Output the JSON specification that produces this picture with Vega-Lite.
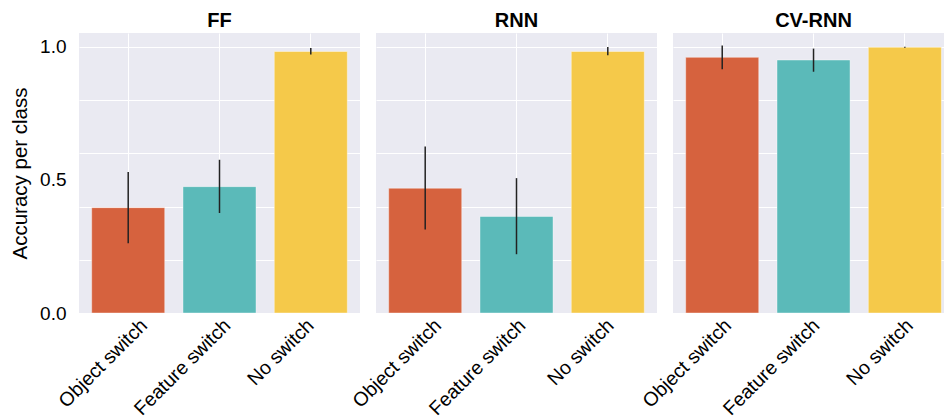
{
  "$schema": "https://vega.github.io/schema/vega-lite/v6.json",
  "background": "white",
  "padding": {"left": 10, "top": 11, "right": 0, "bottom": 0},
  "spacing": 16,
  "bounds": "flush",
  "data": {"values": [
    {"model": "FF", "cond": "Object switch", "acc": 0.396, "lo": 0.262, "hi": 0.530},
    {"model": "FF", "cond": "Feature switch", "acc": 0.475, "lo": 0.376, "hi": 0.576},
    {"model": "FF", "cond": "No switch", "acc": 0.983, "lo": 0.972, "hi": 0.996},
    {"model": "RNN", "cond": "Object switch", "acc": 0.469, "lo": 0.314, "hi": 0.626},
    {"model": "RNN", "cond": "Feature switch", "acc": 0.363, "lo": 0.221, "hi": 0.507},
    {"model": "RNN", "cond": "No switch", "acc": 0.983, "lo": 0.969, "hi": 1.0},
    {"model": "CV-RNN", "cond": "Object switch", "acc": 0.961, "lo": 0.916, "hi": 1.006},
    {"model": "CV-RNN", "cond": "Feature switch", "acc": 0.951, "lo": 0.907, "hi": 0.994},
    {"model": "CV-RNN", "cond": "No switch", "acc": 0.999, "lo": 0.997, "hi": 1.001}
  ]},
  "hconcat": [
    {
      "title": {"text": "FF"},
      "width": 281, "height": 280,
      "transform": [{"filter": "datum.model === 'FF'"}],
      "encoding": {
        "x": {"field": "cond", "type": "nominal", "sort": ["Object switch", "Feature switch", "No switch"],
              "scale": {"paddingInner": 0.2, "paddingOuter": 0.139},
              "axis": {"title": null, "labelAngle": -45, "labelAlign": "right", "labelBaseline": "middle", "labelPadding": 9, "labelFontSize": 19.5, "ticks": false, "domain": false, "grid": true, "gridColor": "#ffffff", "gridWidth": 1, "bandPosition": 0.5,
                       "labelOffset": {"condition": [{"test": "datum.value === 'Object switch'", "value": 16}, {"test": "datum.value === 'Feature switch'", "value": 8}], "value": 0}}}
      },
      "layer": [
        {"mark": {"type": "bar", "stroke": "#ffffff", "strokeOpacity": 0.4, "strokeWidth": 1},
         "encoding": {
           "y": {"field": "acc", "type": "quantitative", "scale": {"domain": [0, 1.0526], "nice": false},
                 "axis": {"title": "Accuracy per class", "titleFontSize": 20.5, "values": [0, 0.2, 0.4, 0.5, 0.6, 0.8, 1],
                          "labelExpr": "(datum.value === 0 || datum.value === 0.5 || datum.value === 1) ? format(datum.value, '.1f') : ''",
                          "gridOpacity": {"condition": {"test": "datum.value === 0.5", "value": 0}, "value": 1},
                          "labelPadding": 13, "titlePadding": 9, "ticks": false, "domain": false, "labelOverlap": false, "labelFlush": false}},
           "color": {"field": "cond", "type": "nominal", "legend": null,
                     "scale": {"domain": ["Object switch", "Feature switch", "No switch"], "range": ["#D6623E", "#5BBAB9", "#F5C94A"]}}
         }},
        {"mark": {"type": "rule", "color": "#222222", "strokeWidth": 1.5},
         "encoding": {"y": {"field": "lo", "type": "quantitative"}, "y2": {"field": "hi"}}}
      ]
    },
    {
      "title": {"text": "RNN"},
      "width": 281, "height": 280,
      "transform": [{"filter": "datum.model === 'RNN'"}],
      "encoding": {
        "x": {"field": "cond", "type": "nominal", "sort": ["Object switch", "Feature switch", "No switch"],
              "scale": {"paddingInner": 0.2, "paddingOuter": 0.139},
              "axis": {"title": null, "labelAngle": -45, "labelAlign": "right", "labelBaseline": "middle", "labelPadding": 9, "labelFontSize": 19.5, "ticks": false, "domain": false, "grid": true, "gridColor": "#ffffff", "gridWidth": 1, "bandPosition": 0.5,
                       "labelOffset": {"condition": [{"test": "datum.value === 'Object switch'", "value": 13}, {"test": "datum.value === 'Feature switch'", "value": 6}], "value": 3}}}
      },
      "layer": [
        {"mark": {"type": "bar", "stroke": "#ffffff", "strokeOpacity": 0.4, "strokeWidth": 1},
         "encoding": {
           "y": {"field": "acc", "type": "quantitative", "scale": {"domain": [0, 1.0526], "nice": false},
                 "axis": {"title": null, "values": [0, 0.2, 0.4, 0.5, 0.6, 0.8, 1], "labels": false, "labelPadding": 0, "minExtent": 0, "maxExtent": 0,
                          "gridOpacity": {"condition": {"test": "datum.value === 0.5", "value": 0}, "value": 1},
                          "ticks": false, "domain": false}},
           "color": {"field": "cond", "type": "nominal", "legend": null,
                     "scale": {"domain": ["Object switch", "Feature switch", "No switch"], "range": ["#D6623E", "#5BBAB9", "#F5C94A"]}}
         }},
        {"mark": {"type": "rule", "color": "#222222", "strokeWidth": 1.5},
         "encoding": {"y": {"field": "lo", "type": "quantitative"}, "y2": {"field": "hi"}}}
      ]
    },
    {
      "title": {"text": "CV-RNN", "dx": 5},
      "width": 271, "height": 280,
      "transform": [{"filter": "datum.model === 'CV-RNN'"}],
      "encoding": {
        "x": {"field": "cond", "type": "nominal", "sort": ["Object switch", "Feature switch", "No switch"],
              "scale": {"paddingInner": 0.2, "paddingOuter": 0.084, "align": 0.828},
              "axis": {"title": null, "labelAngle": -45, "labelAlign": "right", "labelBaseline": "middle", "labelPadding": 9, "labelFontSize": 19.5, "ticks": false, "domain": false, "grid": true, "gridColor": "#ffffff", "gridWidth": 1, "bandPosition": 0.5,
                       "labelOffset": {"condition": [{"test": "datum.value === 'Object switch'", "value": 6}, {"test": "datum.value === 'Feature switch'", "value": 3}], "value": 5}}}
      },
      "layer": [
        {"mark": {"type": "bar", "stroke": "#ffffff", "strokeOpacity": 0.4, "strokeWidth": 1},
         "encoding": {
           "y": {"field": "acc", "type": "quantitative", "scale": {"domain": [0, 1.0526], "nice": false},
                 "axis": {"title": null, "values": [0, 0.2, 0.4, 0.5, 0.6, 0.8, 1], "labels": false, "labelPadding": 0, "minExtent": 0, "maxExtent": 0,
                          "gridOpacity": {"condition": {"test": "datum.value === 0.5", "value": 0}, "value": 1},
                          "ticks": false, "domain": false}},
           "color": {"field": "cond", "type": "nominal", "legend": null,
                     "scale": {"domain": ["Object switch", "Feature switch", "No switch"], "range": ["#D6623E", "#5BBAB9", "#F5C94A"]}}
         }},
        {"mark": {"type": "rule", "color": "#222222", "strokeWidth": 1.5},
         "encoding": {"y": {"field": "lo", "type": "quantitative"}, "y2": {"field": "hi"}}}
      ]
    }
  ],
  "config": {
    "font": "Liberation Sans",
    "view": {"fill": "#EAEAF2", "stroke": null},
    "axis": {"labelFont": "Liberation Sans", "labelFontSize": 19, "labelColor": "#000000", "titleFont": "Liberation Sans", "titleFontSize": 19, "titleFontWeight": "normal", "titleColor": "#000000", "gridColor": "#ffffff", "gridWidth": 1},
    "title": {"font": "Liberation Sans", "fontSize": 20, "fontWeight": "bold", "color": "#000000", "offset": 2, "baseline": "alphabetic", "anchor": "middle"}
  }
}
